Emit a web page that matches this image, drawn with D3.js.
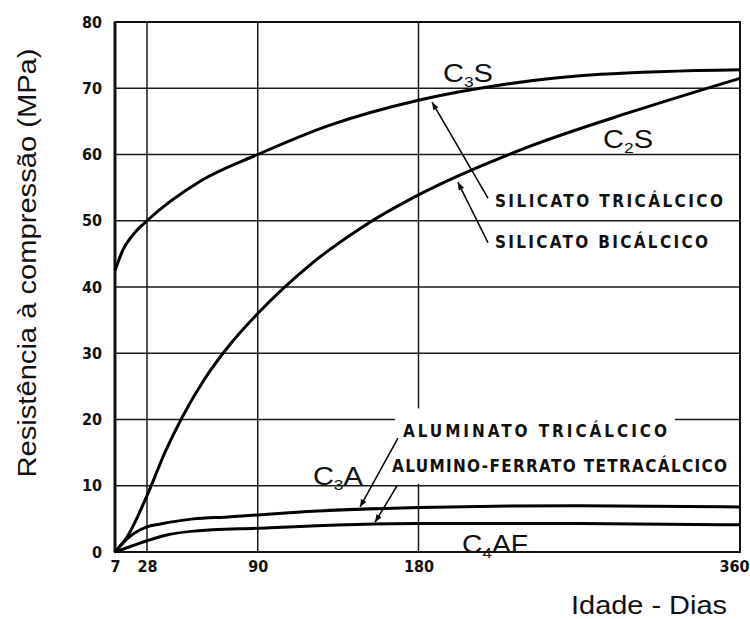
<!DOCTYPE html>
<html>
<head>
<meta charset="utf-8">
<script src="https://cdn.jsdelivr.net/npm/d3@7"></script>
<style>
  body { margin: 0; background: #fff; }
  svg { display: block; }
</style>
</head>
<body>
<svg id="chart"></svg>
<script>
// ticks
const xTicks = [7, 28, 90, 180, 360];
const yTicks = [0, 10, 20, 30, 40, 50, 60, 70, 80];
const xGrid = [28, 90, 180];

// series (age in days, strength in MPa)
const c3sDays = [7, 12, 20, 28, 58, 90, 130, 180, 226, 282, 360];
const c3sValues = [42.5, 45.5, 48.2, 50, 56, 60, 64.4, 68.2, 70.5, 72.1, 72.8];

const c2sDays = [7, 15, 28, 38, 48, 60, 75, 90, 120, 150, 180, 240, 300, 360];
const c2sValues = [0, 2.3, 8.5, 15, 20.5, 26, 31.5, 36, 43.5, 49.3, 53.9, 61, 66.5, 71.5];

const c3aDays = [7, 14, 28, 35, 54, 73, 90, 118, 180, 270, 360];
const c3aValues = [0, 1.8, 3.8, 4.2, 5.0, 5.3, 5.6, 6.1, 6.7, 7.0, 6.8];

const c4afDays = [7, 18, 28, 38, 54, 90, 180, 270, 360];
const c4afValues = [0, 0.9, 1.7, 2.5, 3.15, 3.6, 4.3, 4.3, 4.1];

const width = 750;
const height = 619;
const margin = { top: 22, right: 10, bottom: 67, left: 115 };
const innerW = width - margin.left - margin.right;
const innerH = height - margin.top - margin.bottom;

const svg = d3.select('#chart')
  .attr('width', width)
  .attr('height', height);

const chart = svg.append('g')
  .attr('transform', 'translate(' + margin.left + ',' + margin.top + ')');

// the first interval (7 -> 28) is drawn a bit compressed in the original
const x = d3.scaleLinear()
  .domain([7, 28, 360])
  .range([0, innerW * 0.0512, innerW]);

const y = d3.scaleLinear()
  .domain([0, 80])
  .range([innerH, 0]);

const tickFont = '"DejaVu Sans Condensed", "Liberation Sans", Arial, sans-serif';
const labelFont = '"Liberation Sans", Arial, sans-serif';

// grid
chart.selectAll('.hgrid')
  .data(yTicks.filter(d => d > 0 && d < 80))
  .join('line')
  .attr('class', 'hgrid')
  .attr('x1', 0).attr('x2', innerW)
  .attr('y1', d => y(d)).attr('y2', d => y(d))
  .attr('stroke', '#1a1a1a')
  .attr('stroke-width', 1.4);

chart.selectAll('.vgrid')
  .data(xGrid)
  .join('line')
  .attr('class', 'vgrid')
  .attr('x1', d => x(d)).attr('x2', d => x(d))
  .attr('y1', 0).attr('y2', innerH)
  .attr('stroke', '#1a1a1a')
  .attr('stroke-width', 1.5);

// frame
chart.append('rect')
  .attr('x', 0).attr('y', 0)
  .attr('width', innerW).attr('height', innerH)
  .attr('fill', 'none')
  .attr('stroke', '#111')
  .attr('stroke-width', 2);
chart.append('line')
  .attr('x1', 0).attr('x2', 0)
  .attr('y1', 0).attr('y2', innerH)
  .attr('stroke', '#111')
  .attr('stroke-width', 3);

// axes (labels only)
chart.append('g')
  .attr('class', 'x-axis')
  .attr('transform', 'translate(0,' + innerH + ')')
  .call(d3.axisBottom(x).tickValues(xTicks).tickSize(0).tickFormat(d3.format('d')))
  .call(g => g.select('.domain').remove())
  .call(g => g.selectAll('.tick text')
    .attr('y', 9)
    .attr('dy', '0.71em')
    .attr('fill', '#111')
    .style('font-family', tickFont)
    .style('font-weight', 'bold')
    .style('font-size', '16px'))
  // keep the last label inside the page
  .call(g => g.selectAll('.tick text')
    .filter(d => d === 360)
    .attr('text-anchor', 'end')
    .attr('x', 9));

chart.append('g')
  .attr('class', 'y-axis')
  .call(d3.axisLeft(y).tickValues(yTicks).tickSize(0).tickFormat(d3.format('d')))
  .call(g => g.select('.domain').remove())
  .call(g => g.selectAll('.tick text')
    .attr('x', -13)
    .attr('fill', '#111')
    .style('font-family', tickFont)
    .style('font-weight', 'bold')
    .style('font-size', '16px'));

// axis titles
svg.append('text')
  .attr('transform', 'translate(36,' + 263 + ') rotate(-90)')
  .attr('text-anchor', 'middle')
  .attr('textLength', 429)
  .attr('lengthAdjust', 'spacingAndGlyphs')
  .style('font-family', labelFont)
  .style('font-size', '26px')
  .attr('fill', '#111')
  .text('Resistência à compressão (MPa)');

svg.append('text')
  .attr('x', 571)
  .attr('y', 614)
  .attr('textLength', 156)
  .attr('lengthAdjust', 'spacingAndGlyphs')
  .style('font-family', labelFont)
  .style('font-size', '26px')
  .attr('fill', '#111')
  .text('Idade - Dias');

// curves
const series = [
  { days: c3sDays, values: c3sValues },
  { days: c2sDays, values: c2sValues },
  { days: c3aDays, values: c3aValues },
  { days: c4afDays, values: c4afValues }
];

const line = d3.line()
  .x(d => x(d[0]))
  .y(d => y(d[1]))
  .curve(d3.curveMonotoneX);

// white patches behind the aluminate labels (they cut the grid in the original)
const patchGroup = chart.append('g');

chart.selectAll('.curve')
  .data(series)
  .join('path')
  .attr('class', 'curve')
  .attr('d', s => line(s.days.map((d, i) => [d, s.values[i]])))
  .attr('fill', 'none')
  .attr('stroke', '#000')
  .attr('stroke-width', 3);

// arrow marker
svg.append('defs').append('marker')
  .attr('id', 'arrow')
  .attr('viewBox', '0 0 10 8')
  .attr('refX', 10).attr('refY', 4)
  .attr('markerWidth', 9).attr('markerHeight', 6)
  .attr('markerUnits', 'userSpaceOnUse')
  .attr('orient', 'auto')
  .append('path')
  .attr('d', 'M0,0 L10,4 L0,8 Z')
  .attr('fill', '#000');

// annotations, in data units: label anchor + leader line from / to
const annotations = [
  { text: 'SILICATO TRICÁLCICO', day: 222.8, mpa: 52.1, len: 228, from: [218.9, 53.4], to: [187.6, 67.9] },
  { text: 'SILICATO BICÁLCICO', day: 222.8, mpa: 45.9, len: 213, from: [218.9, 46.7], to: [202.1, 55.8] },
  { text: 'ALUMINATO TRICÁLCICO', day: 171.3, mpa: 17.3, len: 264, from: [168.5, 17.2], to: [147.3, 6.8], patch: [12, 13] },
  { text: 'ALUMINO-FERRATO TETRACÁLCICO', day: 165.2, mpa: 12.1, len: 335, from: [168, 10.0], to: [155.7, 4.5], patch: [4, 8] }
];

const annText = chart.selectAll('.ann')
  .data(annotations)
  .join('text')
  .attr('class', 'ann')
  .attr('x', d => x(d.day))
  .attr('y', d => y(d.mpa))
  .attr('textLength', d => d.len)
  .attr('lengthAdjust', 'spacing')
  .style('font-family', tickFont)
  .style('font-weight', 'bold')
  .style('font-size', '17px')
  .attr('fill', '#111')
  .text(d => d.text);

annText.each(function(d) {
  if (!d.patch) return;
  const b = this.getBBox();
  patchGroup.append('rect')
    .attr('x', b.x - 8)
    .attr('y', b.y - d.patch[0])
    .attr('width', b.width + 16)
    .attr('height', b.height + d.patch[0] + d.patch[1])
    .attr('fill', '#fff');
});

chart.selectAll('.leader')
  .data(annotations)
  .join('line')
  .attr('class', 'leader')
  .attr('x1', d => x(d.from[0])).attr('y1', d => y(d.from[1]))
  .attr('x2', d => x(d.to[0])).attr('y2', d => y(d.to[1]))
  .attr('stroke', '#000')
  .attr('stroke-width', 1.5)
  .attr('marker-end', 'url(#arrow)');

// compound names with subscripts
const compounds = [
  { main: 'C', sub: '3', rest: 'S', day: 193.7, mpa: 70.9, len: 50 },
  { main: 'C', sub: '2', rest: 'S', day: 283.3, mpa: 61.0, len: 50 },
  { main: 'C', sub: '3', rest: 'A', day: 120.9, mpa: 10.1, len: 50 },
  { main: 'C', sub: '4', rest: 'AF', day: 204.4, mpa: -0.15, len: 66 }
];

const comp = chart.selectAll('.compound')
  .data(compounds)
  .join('text')
  .attr('class', 'compound')
  .attr('x', d => x(d.day))
  .attr('y', d => y(d.mpa))
  .attr('textLength', d => d.len)
  .attr('lengthAdjust', 'spacingAndGlyphs')
  .style('font-family', labelFont)
  .style('font-size', '25px')
  .attr('fill', '#111');

comp.append('tspan').text(d => d.main);
comp.append('tspan')
  .attr('dy', 5)
  .style('font-size', '15px')
  .text(d => d.sub);
comp.append('tspan')
  .attr('dy', -5)
  .text(d => d.rest);
</script>
</body>
</html>
